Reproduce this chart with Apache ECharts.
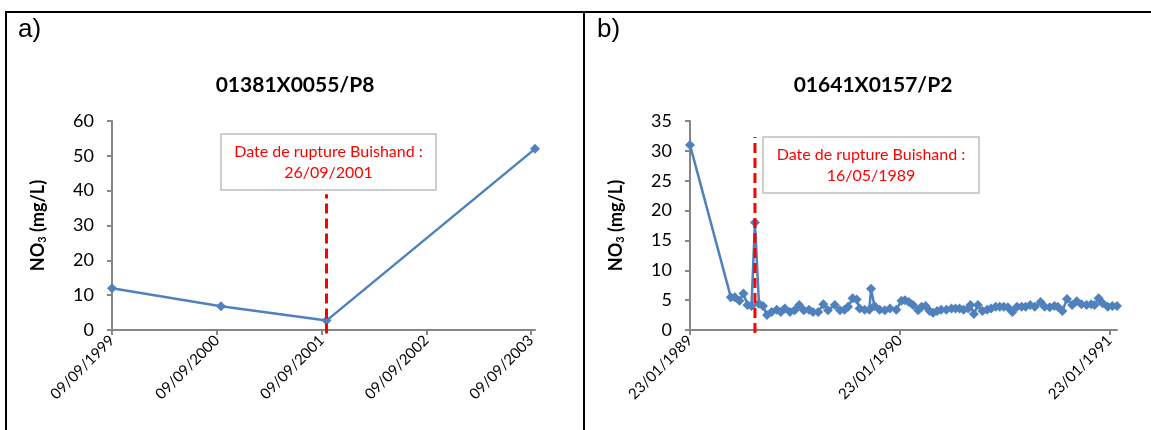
<!DOCTYPE html>
<html><head><meta charset="utf-8">
<script src="https://cdn.jsdelivr.net/npm/echarts@6/dist/echarts.min.js"></script>
<style>html,body{margin:0;padding:0;background:#fff}#c{width:1151px;height:430px}</style>
</head><body><div id="c"></div>
<script>
// ---------- Panel a ----------
const panelLabelA = 'a)';
const titleA = '01381X0055/P8';
const datesA = ['1999-09-09', '2000-09-23', '2001-09-26', '2003-09-23'];
const valuesA = [12, 6.8, 2.7, 52];
const tickLabelsA = ['09/09/1999', '09/09/2000', '09/09/2001', '09/09/2002', '09/09/2003'];
const yTicksA = {min: 0, max: 60, interval: 10};
const breakDateA = '2001-09-26';
const breakSpanA = [-1, 39];
const breakTextA = ['Date de rupture Buishand :', '26/09/2001'];

// ---------- Panel b ----------
const panelLabelB = 'b)';
const titleB = '01641X0157/P2';
const datesB = [
  '1989-01-23','1989-04-04','1989-04-11','1989-04-19','1989-04-26','1989-05-03','1989-05-10','1989-05-16',
  '1989-05-23','1989-05-30','1989-06-06','1989-06-14','1989-06-23','1989-06-30','1989-07-07','1989-07-16',
  '1989-07-24','1989-08-01','1989-08-09','1989-08-18','1989-08-25','1989-09-03','1989-09-12','1989-09-20',
  '1989-10-02','1989-10-11','1989-10-19','1989-10-25','1989-11-02','1989-11-09','1989-11-14','1989-11-23',
  '1989-12-01','1989-12-04','1989-12-10','1989-12-19','1989-12-28','1990-01-06','1990-01-17','1990-01-26',
  '1990-02-01','1990-02-08','1990-02-15','1990-02-24','1990-03-02','1990-03-09','1990-03-16','1990-03-22',
  '1990-03-29','1990-04-05','1990-04-14','1990-04-23','1990-04-30','1990-05-07','1990-05-14','1990-05-22',
  '1990-05-26','1990-06-01','1990-06-08','1990-06-16','1990-06-24','1990-07-01','1990-07-09','1990-07-16',
  '1990-07-23','1990-07-30','1990-08-07','1990-08-15','1990-08-23','1990-08-30','1990-09-07','1990-09-15',
  '1990-09-25','1990-10-02','1990-10-11','1990-10-19','1990-10-25','1990-11-02','1990-11-10','1990-11-19',
  '1990-11-27','1990-12-05','1990-12-14','1990-12-22','1990-12-28','1991-01-04','1991-01-11','1991-01-20',
  '1991-01-28','1991-02-05'
];
const valuesB = [
  31, 5.5, 5.5, 4.9, 6.1, 4.2, 4.0, 18,
  4.4, 4.0, 2.5, 3.0, 3.4, 3.0, 3.6, 3.0,
  3.3, 4.2, 3.3, 3.4, 3.0, 3.0, 4.3, 3.3,
  4.2, 3.3, 3.4, 3.9, 5.3, 5.1, 3.6, 3.4,
  3.4, 6.9, 4.0, 3.4, 3.3, 3.6, 3.4, 4.9,
  5.0, 4.7, 4.2, 3.3, 3.9, 4.0, 3.2, 2.9,
  3.2, 3.4, 3.4, 3.6, 3.6, 3.6, 3.4, 3.6,
  4.2, 2.7, 4.2, 3.2, 3.4, 3.6, 3.9, 3.9,
  3.9, 3.8, 3.0, 3.9, 3.9, 3.9, 4.2, 3.9,
  4.7, 3.9, 3.8, 4.0, 3.9, 3.2, 5.2, 4.2,
  4.8, 4.3, 4.2, 4.3, 4.2, 5.3, 4.5, 3.9,
  4.0, 4.0
];
const tickLabelsB = ['23/01/1989', '23/01/1990', '23/01/1991'];
const yTicksB = {min: 0, max: 35, interval: 5};
const breakDateB = '1989-05-16';
const breakSpanB = [-0.5, 32.3];
const breakTextB = ['Date de rupture Buishand :', '16/05/1989'];

const yName = '{b|NO}{s|3}{b| (mg/L)}';

// ---------- helpers ----------
function isoTs(s) { const p = s.split('-').map(Number); return Date.UTC(p[0], p[1] - 1, p[2]); }
function frTs(s) { const p = s.split('/').map(Number); return Date.UTC(p[2], p[1] - 1, p[0]); }
function fmt(v) {
  const d = new Date(v);
  const dd = String(d.getUTCDate()).padStart(2, '0');
  const mm = String(d.getUTCMonth() + 1).padStart(2, '0');
  return dd + '/' + mm + '/' + d.getUTCFullYear();
}
const BLUE = '#4F81BD';
const AXIS = '#868686';
const FONT = 'Lato';

function xAxisFor(gridIndex, dates, ticks) {
  const tv = ticks.map(frTs);
  return {
    type: 'value', gridIndex,
    min: isoTs(dates[0]), max: isoTs(dates[dates.length - 1]),
    splitLine: {show: false},
    axisLine: {lineStyle: {color: AXIS, width: 2}},
    axisTick: {show: true, length: 5, lineStyle: {color: AXIS, width: 2}, customValues: tv},
    axisLabel: {customValues: tv, rotate: 45, fontSize: 15, color: '#000', fontFamily: FONT, margin: 8, formatter: fmt}
  };
}
function yAxisFor(gridIndex, t) {
  return {
    type: 'value', gridIndex, min: t.min, max: t.max, interval: t.interval,
    splitLine: {show: false},
    axisLine: {show: true, lineStyle: {color: AXIS, width: 2}},
    axisTick: {show: true, length: 5, lineStyle: {color: AXIS, width: 2}},
    axisLabel: {fontSize: 18, color: '#000', fontFamily: FONT, margin: 18},
    name: yName, nameLocation: 'middle', nameRotate: 90, nameGap: 64,
    nameTextStyle: {
      rich: {
        b: {fontSize: 18, fontWeight: 'bold', fontFamily: FONT, color: '#000'},
        s: {fontSize: 11, fontWeight: 'bold', fontFamily: FONT, color: '#000', padding: [9, 0, 0, 0]}
      }
    }
  };
}
function dataSeries(i, dates, vals) {
  return {
    type: 'line', xAxisIndex: i, yAxisIndex: i,
    data: dates.map((d, k) => [isoTs(d), vals[k]]),
    symbol: 'diamond', symbolSize: 10,
    itemStyle: {color: BLUE}, lineStyle: {color: BLUE, width: 2.5},
    animation: false, z: 3
  };
}
function breakSeries(i, date, span) {
  return {
    type: 'line', xAxisIndex: i, yAxisIndex: i, clip: false,
    data: span.map(v => [isoTs(date), v]),
    symbol: 'none', lineStyle: {color: '#FF0000', width: 3, type: [10, 5]},
    animation: false, z: 4, silent: true
  };
}
function annotation(x, y, w, h, lines) {
  return {
    type: 'group', z: 10, children: [
      {type: 'rect', shape: {x, y, width: w, height: h}, style: {fill: '#fff', stroke: '#BFBFBF', lineWidth: 1.5}},
      {type: 'text', x: x + w / 2, y: y + 18, style: {text: lines[0], fill: '#FF0000', font: '16px ' + FONT, textAlign: 'center', textVerticalAlign: 'middle'}},
      {type: 'text', x: x + w / 2, y: y + 39, style: {text: lines[1], fill: '#FF0000', font: '16px ' + FONT, textAlign: 'center', textVerticalAlign: 'middle'}}
    ]
  };
}

const chart = echarts.init(document.getElementById('c'), null, {renderer: 'canvas'});
chart.setOption({
  backgroundColor: '#fff',
  animation: false,
  title: [
    {text: titleA, left: 290, top: 70, textAlign: 'center', textStyle: {fontFamily: FONT, fontWeight: 'bold', fontSize: 21, color: '#000'}},
    {text: titleB, left: 868, top: 70, textAlign: 'center', textStyle: {fontFamily: FONT, fontWeight: 'bold', fontSize: 21, color: '#000'}}
  ],
  grid: [
    {left: 112, right: 1151 - 535, top: 121, bottom: 100, containLabel: false},
    {left: 690, right: 1151 - 1117, top: 121, bottom: 100, containLabel: false}
  ],
  xAxis: [xAxisFor(0, datesA, tickLabelsA), xAxisFor(1, datesB, tickLabelsB)],
  yAxis: [yAxisFor(0, yTicksA), yAxisFor(1, yTicksB)],
  series: [
    dataSeries(0, datesA, valuesA), breakSeries(0, breakDateA, breakSpanA),
    dataSeries(1, datesB, valuesB), breakSeries(1, breakDateB, breakSpanB)
  ],
  graphic: [
    {type: 'line', shape: {x1: 5, y1: 12, x2: 1151, y2: 12}, style: {stroke: '#000', lineWidth: 2}},
    {type: 'line', shape: {x1: 6, y1: 11, x2: 6, y2: 430}, style: {stroke: '#000', lineWidth: 2}},
    {type: 'line', shape: {x1: 584, y1: 11, x2: 584, y2: 430}, style: {stroke: '#000', lineWidth: 2}},
    {type: 'text', x: 18, y: 17, style: {text: panelLabelA, fill: '#000', font: '26px "Liberation Sans"'}},
    {type: 'text', x: 597, y: 17, style: {text: panelLabelB, fill: '#000', font: '26px "Liberation Sans"'}},
    annotation(221, 134, 215, 56, breakTextA),
    annotation(763, 137, 216, 56, breakTextB)
  ]
});
</script>
</body></html>
